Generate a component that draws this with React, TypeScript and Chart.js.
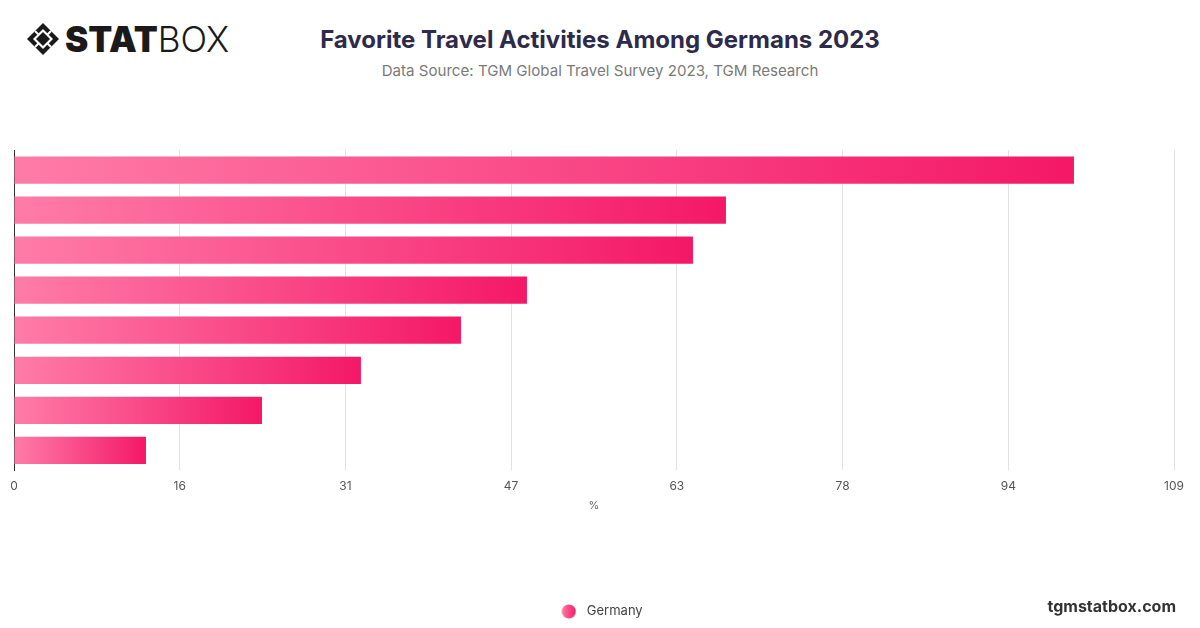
import React, { useEffect, useRef } from "react";
import { Chart, registerables } from "chart.js";

Chart.register(...registerables);

const categories = [
  "Sightseeing",
  "Relaxing on the beach",
  "Trying local food",
  "Visiting museums",
  "Shopping",
  "Hiking",
  "Nightlife",
  "Sports activities",
];
const germanyValues = [99.6, 66.9, 63.8, 48.2, 42.0, 32.6, 23.3, 12.4];
const tickValues = [0, 109 / 7, (109 * 2) / 7, (109 * 3) / 7, (109 * 4) / 7, (109 * 5) / 7, (109 * 6) / 7, 109];
const tickLabels = ["0", "16", "31", "47", "63", "78", "94", "109"];
const seriesName = "Germany";
const titleText = "Favorite Travel Activities Among Germans 2023";
const subtitleText = "Data Source: TGM Global Travel Survey 2023, TGM Research";

const LIGHT = "#ff7ca8";
const DARK = "#f41867";

function makeLegendDot(): HTMLCanvasElement {
  const c = document.createElement("canvas");
  c.width = 15;
  c.height = 15;
  const g = c.getContext("2d");
  if (g) {
    const grad = g.createLinearGradient(0, 0, 15, 0);
    grad.addColorStop(0, LIGHT);
    grad.addColorStop(1, DARK);
    g.fillStyle = grad;
    g.beginPath();
    g.arc(7.5, 7.5, 7, 0, Math.PI * 2);
    g.fill();
  }
  return c;
}

const centerLegendPlugin = {
  id: "centerLegend",
  afterLayout(chart: any) {
    if (chart.legend) {
      chart.legend.left = 0;
      chart.legend.right = chart.width;
    }
  },
};

function Logo() {
  return (
    <div style={{ position: "absolute", left: 26, top: 22, display: "flex", alignItems: "center" }}>
      <svg width="34" height="34" viewBox="0 0 34 34">
        <polygon points="17,1 33,17 17,33 1,17" fill="#1a1a1a" />
        <polygon points="17,7 27,17 17,27 7,17" fill="#fff" />
        <polygon points="17,10 24,17 17,24 10,17" fill="#1a1a1a" />
        <line x1="9" y1="9" x2="13" y2="13" stroke="#fff" strokeWidth="2" />
        <line x1="25" y1="9" x2="21" y2="13" stroke="#fff" strokeWidth="2" />
        <line x1="9" y1="25" x2="13" y2="21" stroke="#fff" strokeWidth="2" />
        <line x1="25" y1="25" x2="21" y2="21" stroke="#fff" strokeWidth="2" />
      </svg>
      <span
        style={{
          fontFamily: "Inter, 'DejaVu Sans', sans-serif",
          fontWeight: 900,
          fontSize: 35,
          color: "#1a1a1a",
          marginLeft: 5,
          lineHeight: "34px",
        }}
      >
        STAT
      </span>
      <span
        style={{
          fontFamily: "Inter, 'DejaVu Sans', sans-serif",
          fontWeight: 300,
          fontSize: 35,
          color: "#1a1a1a",
          lineHeight: "34px",
        }}
      >
        BOX
      </span>
    </div>
  );
}

export default function App() {
  const canvasRef = useRef<HTMLCanvasElement | null>(null);

  useEffect(() => {
    const canvas = canvasRef.current;
    if (!canvas) return;
    const dot = makeLegendDot();
    const chart = new Chart(canvas, {
      type: "bar",
      data: {
        labels: categories,
        datasets: [
          {
            label: seriesName,
            data: germanyValues,
            backgroundColor: (ctx: any) => {
              const c = ctx.chart;
              const xs = c.scales && c.scales.x;
              if (!c.chartArea || !xs) return "#fa4a85";
              let v = ctx.raw;
              if (ctx.type !== "data" || typeof v !== "number") v = germanyValues[0];
              const x0 = xs.getPixelForValue(0);
              const x1 = xs.getPixelForValue(v);
              const g = c.ctx.createLinearGradient(x0, 0, x1 > x0 ? x1 : x0 + 1, 0);
              g.addColorStop(0, LIGHT);
              g.addColorStop(1, DARK);
              return g;
            },
            borderWidth: 0,
            categoryPercentage: 0.8,
            barPercentage: 0.85,
          },
        ],
      },
      options: {
        indexAxis: "y",
        responsive: true,
        maintainAspectRatio: false,
        animation: false,
        layout: { padding: { top: 150, left: 14, right: 26, bottom: 0 } },
        scales: {
          x: {
            min: 0,
            max: 109,
            afterBuildTicks: (scale: any) => {
              scale.ticks = tickValues.map((v) => ({ value: v }));
            },
            ticks: {
              autoSkip: false,
              maxRotation: 0,
              color: "#555",
              padding: 9,
              font: { family: "Inter, 'Noto Sans', sans-serif", size: 12 },
              callback: (_v: any, i: number) => tickLabels[i],
            },
            grid: { color: "#e2e2e2", drawTicks: false },
            border: { display: false },
            title: {
              display: true,
              text: "%",
              color: "#666",
              font: { family: "Inter, 'Noto Sans', sans-serif", size: 11 },
              padding: { top: -4, bottom: 83 },
            },
          },
          y: {
            ticks: { display: false },
            grid: { display: false, drawTicks: false },
            border: { display: true, color: "#333", width: 1 },
          },
        },
        plugins: {
          legend: {
            position: "bottom",
            labels: {
              usePointStyle: true,
              pointStyle: dot as any,
              pointStyleWidth: 23,
              boxHeight: 13,
              color: "#444",
              padding: 10,
              font: { family: "Inter, 'Noto Sans', sans-serif", size: 13 },
            },
          },
          tooltip: { enabled: false },
        },
      },
      plugins: [centerLegendPlugin],
    });
    return () => chart.destroy();
  }, []);

  return (
    <div style={{ position: "absolute", left: 0, top: 0, width: 1200, height: 628, background: "#fff", overflow: "hidden" }}>
      <Logo />
      <div
        style={{
          position: "absolute",
          left: 0,
          width: 1200,
          top: 24,
          textAlign: "center",
          fontFamily: "Inter, 'Noto Sans', sans-serif",
          fontWeight: 700,
          fontSize: 24,
          color: "#2d2a4a",
          lineHeight: "32px",
        }}
      >
        {titleText}
      </div>
      <div
        style={{
          position: "absolute",
          left: 0,
          width: 1200,
          top: 61,
          textAlign: "center",
          fontFamily: "Inter, 'Noto Sans', sans-serif",
          fontWeight: 400,
          fontSize: 15.1,
          color: "#7a7a7a",
          lineHeight: "20px",
        }}
      >
        {subtitleText}
      </div>
      <div style={{ position: "absolute", left: 0, top: 0, width: 1200, height: 628 }}>
        <canvas ref={canvasRef} />
      </div>
      <div
        style={{
          position: "absolute",
          right: 24,
          top: 596,
          fontFamily: "Inter, 'Noto Sans', sans-serif",
          fontWeight: 700,
          fontSize: 16,
          color: "#333",
          lineHeight: "20px",
        }}
      >
        tgmstatbox.com
      </div>
    </div>
  );
}
